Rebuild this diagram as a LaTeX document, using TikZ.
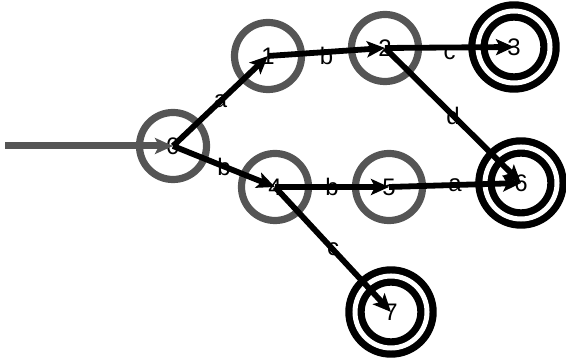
\documentclass[tikz,border=0pt]{standalone}
\usepackage{fontspec}
\setmainfont{Liberation Sans}
\usetikzlibrary{arrows.meta}

\definecolor{ringgray}{RGB}{85,85,85}

\begin{document}
\begin{tikzpicture}[
    x=0.025cm, y=-0.025cm,
    font=\fontsize{17}{19}\selectfont,
    state/.style={
        circle,
        draw=ringgray,
        line width=0.18cm,
        minimum size=1.675cm,
        inner sep=0pt
    },
    accepting/.style={
        circle,
        draw=black,
        line width=0.18cm,
        double=white,
        double distance=0.125cm,
        minimum size=1.8cm,
        inner sep=0pt
    },
    edge/.style={-{Stealth[length=0.45cm, width=0.4cm, inset=0.1cm]}, line width=0.145cm, draw=black},
    startedge/.style={-{Stealth[length=0.45cm, width=0.4cm, inset=0.1cm]}, line width=0.175cm, draw=ringgray},
    lbl/.style={midway, inner sep=1pt}
]
\useasboundingbox (0,0) rectangle (566,359);

\node[state] (q0) at (173,146) {0};
\node[state] (q1) at (268,56) {1};
\node[state] (q2) at (385,48) {2};
\node[accepting] (q3) at (514,47) {3};
\node[state] (q4) at (275,187) {4};
\node[state] (q5) at (389,187) {5};
\node[accepting] (q6) at (521,183) {6};
\node[accepting] (q7) at (391,312) {7};

\coordinate (start) at (5,146);

\draw[startedge] (start) -- (q0.center);

\draw[edge] (q0.center) -- node[lbl] {a} (q1.center);
\draw[edge] (q0.center) -- node[lbl] {b} (q4.center);
\draw[edge] (q1.center) -- node[lbl, yshift=-0.1cm] {b} (q2.center);
\draw[edge] (q2.center) -- node[lbl, yshift=-0.15cm] {c} (q3.center);
\draw[edge] (q2.center) -- node[lbl] {d} (q6.center);
\draw[edge] (q4.center) -- node[lbl] {b} (q5.center);
\draw[edge] (q5.center) -- node[lbl] {a} (q6.center);
\draw[edge] (q4.center) -- node[lbl] {c} (q7.center);

\end{tikzpicture}
\end{document}
